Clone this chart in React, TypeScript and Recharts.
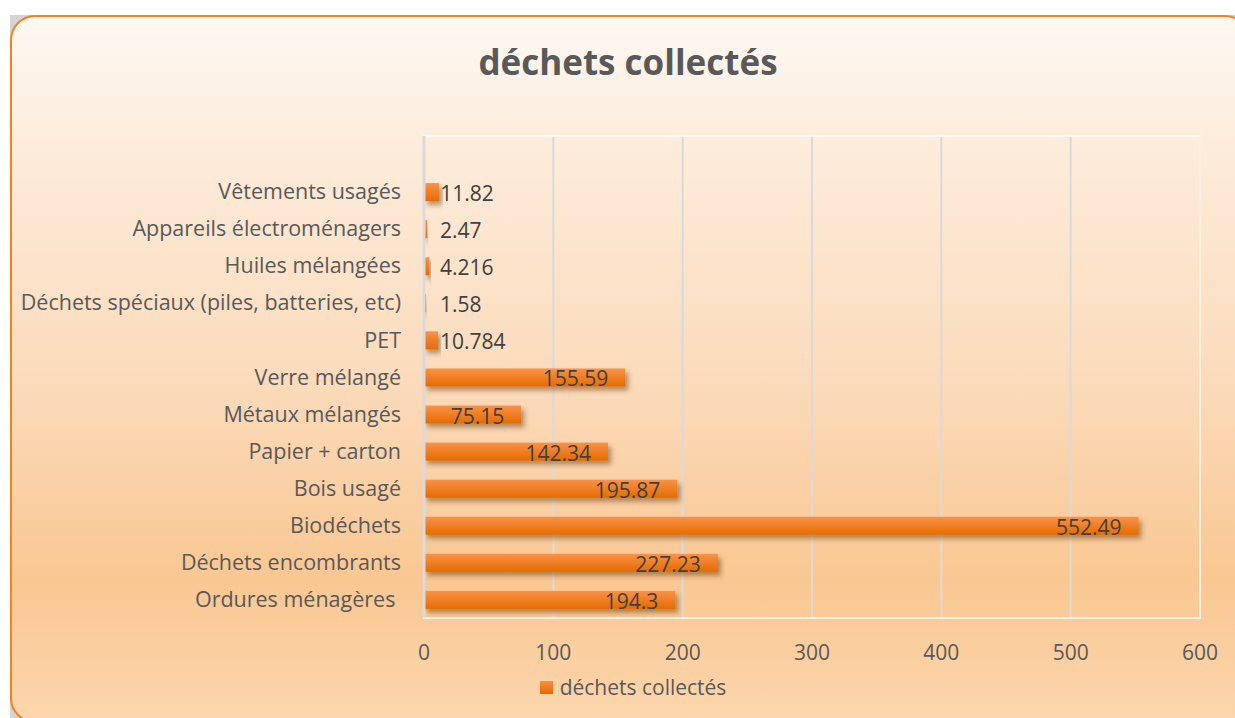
import { BarChart, Bar, XAxis, YAxis, CartesianGrid, Legend, LabelList, ReferenceArea, ReferenceLine } from "recharts";

const FONT = "'Open Sans', 'Liberation Sans', sans-serif";

// first row is an empty category, as in the original sheet
const categories = [
  "",
  "Vêtements usagés",
  "Appareils électroménagers",
  "Huiles mélangées",
  "Déchets spéciaux (piles, batteries, etc)",
  "PET",
  "Verre mélangé",
  "Métaux mélangés",
  "Papier + carton",
  "Bois usagé",
  "Biodéchets",
  "Déchets encombrants",
  "Ordures ménagères\u00a0",
];
const collected = [null, 11.82, 2.47, 4.216, 1.58, 10.784, 155.59, 75.15, 142.34, 195.87, 552.49, 227.23, 194.3];
const xTicks = [0, 100, 200, 300, 400, 500, 600];

const data = categories.map((name, i) => ({ name, value: collected[i] }));

const BarShape = (props: any) => {
  const { x, y, width, height } = props;
  if (!width || width <= 0) return null;
  return <rect x={x} y={y} width={width} height={height} fill="url(#barGrad)" filter="url(#barShadow)" />;
};

const ValueLabel = (props: any) => {
  const { x, y, width, height, value } = props;
  if (value == null) return null;
  const text = String(value);
  const textW = text.length * 11.5;
  const cy = y + height / 2 + 1;
  const common = { fontSize: 21, fill: "#404040", fontFamily: FONT, dominantBaseline: "central" as const };
  if (width > textW + 24) {
    return (
      <text x={x + width - 17} y={cy} textAnchor="end" {...common}>
        {text}
      </text>
    );
  }
  return (
    <text x={x + Math.max(width, 15) + 1} y={cy} textAnchor="start" {...common}>
      {text}
    </text>
  );
};

const renderLegend = () => (
  <div
    style={{
      display: "flex",
      justifyContent: "center",
      alignItems: "center",
      paddingLeft: 66,
      fontFamily: FONT,
      fontSize: 21,
      color: "#595959",
      lineHeight: "27px",
    }}
  >
    <span
      style={{
        display: "inline-block",
        width: 13,
        height: 13,
        marginRight: 7,
        background: "linear-gradient(#fa8e42, #e46c00)",
      }}
    />
    déchets collectés
  </div>
);

export default function App() {
  return (
    <div style={{ position: "absolute", left: 0, top: 0, width: 1235, height: 718, overflow: "hidden", background: "#fff", fontFamily: FONT }}>
      <div style={{ position: "absolute", left: 10, top: 15, width: 1240, height: 708, background: "#d4d4d4" }} />
      <div
        style={{
          position: "absolute",
          left: 10,
          top: 15,
          width: 1236,
          height: 704,
          borderRadius: 25,
          border: "2px solid #f5821f",
          background: "linear-gradient(180deg, #fef8f2 0%, #fdebd9 20%, #fbdcbd 50%, #f9c792 80%, #fcd6ad 100%)",
        }}
      />
      <div
        style={{
          position: "absolute",
          left: 0,
          top: 38,
          width: 1256,
          textAlign: "center",
          fontSize: 35,
          fontWeight: 700,
          color: "#595959",
          lineHeight: "48px",
        }}
      >
        déchets collectés
      </div>
      <div style={{ position: "absolute", left: 0, top: 0 }}>
        <BarChart
          width={1235}
          height={718}
          data={data}
          layout="vertical"
          margin={{ top: 136, right: 35, bottom: 4, left: 0 }}
        >
          <defs>
            <linearGradient id="barGrad" x1="0" y1="0" x2="0" y2="1">
              <stop offset="0%" stopColor="#fb9147" />
              <stop offset="100%" stopColor="#e46c00" />
            </linearGradient>
            <filter id="barShadow" x="-20%" y="-50%" width="140%" height="220%">
              <feDropShadow dx="3" dy="4" stdDeviation="2.5" floodColor="#5a2a00" floodOpacity="0.45" />
            </filter>
          </defs>
          <ReferenceArea x1={0} x2={600} fill="none" stroke="#ffffff" strokeOpacity={0.75} strokeWidth={2} ifOverflow="visible" />
          <CartesianGrid horizontal={false} stroke="#d9dadc" strokeWidth={2} />
          <ReferenceLine x={600} stroke="#fdeedf" strokeWidth={2} />
          <ReferenceLine x={0} stroke="#d9dadc" strokeWidth={3} />
          <XAxis
            type="number"
            domain={[0, 600]}
            ticks={xTicks}
            axisLine={false}
            tickLine={false}
            tickSize={0}
            tickMargin={27}
            height={56}
            tick={{ fontSize: 21, fill: "#595959", fontFamily: FONT }}
          />
          <YAxis
            type="category"
            dataKey="name"
            width={424}
            axisLine={false}
            tickLine={false}
            tickSize={0}
            tickMargin={23}
            interval={0}
            tick={{ fontSize: 21.5, fill: "#595959", fontFamily: FONT }}
          />
          <Legend verticalAlign="bottom" height={40} content={renderLegend} />
          <Bar dataKey="value" barSize={18} shape={<BarShape />} isAnimationActive={false}>
            <LabelList dataKey="value" content={<ValueLabel />} />
          </Bar>
        </BarChart>
      </div>
    </div>
  );
}
